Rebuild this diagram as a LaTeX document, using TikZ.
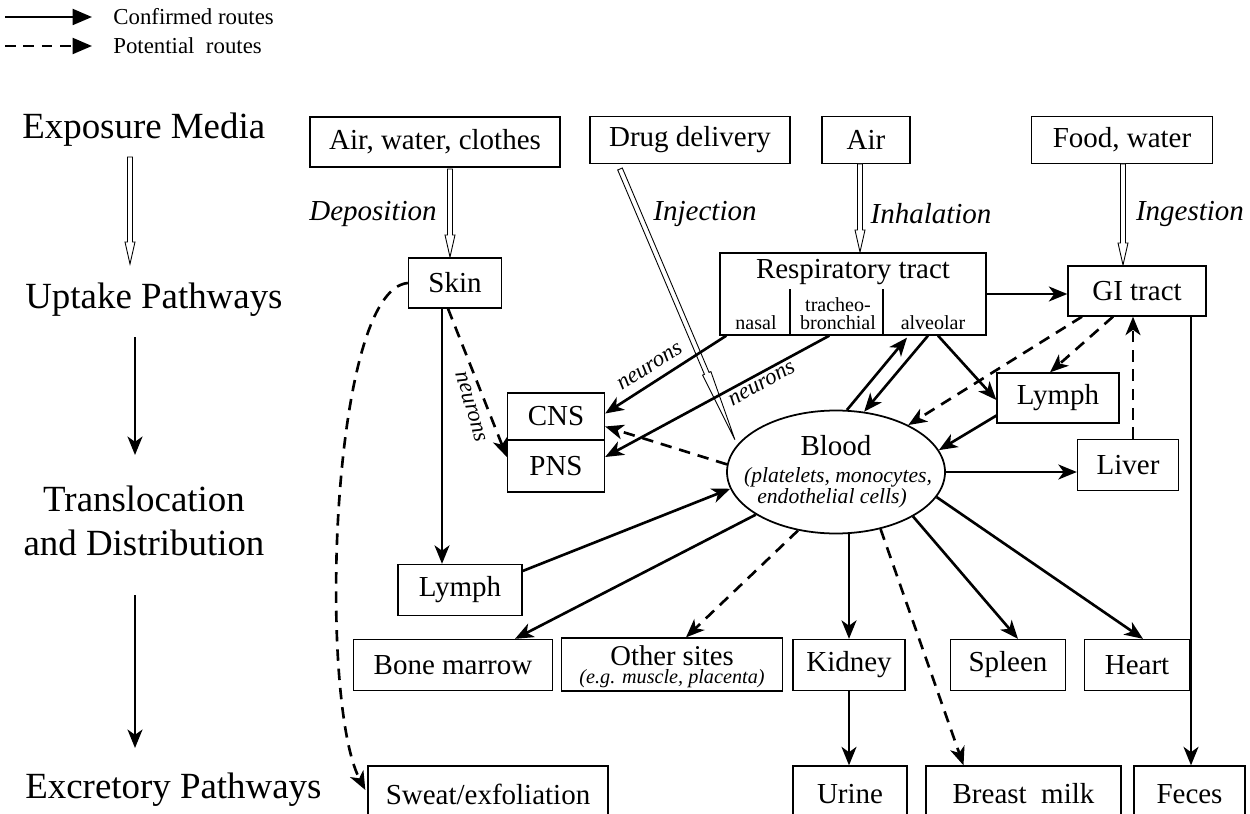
\documentclass[tikz,border=0pt]{standalone}
\usepackage{fontspec}
\setmainfont{Liberation Serif}
\usetikzlibrary{arrows.meta,shapes.geometric,calc}
\newcommand\fs[1]{\fontsize{#1}{#1}\selectfont}
\newcommand\hdown[3]{\draw[hol] ({#1-2.5},#2) -- ({#1-2.5},{#3-22}) -- ({#1-5},{#3-22}) -- (#1,#3) -- ({#1+5},{#3-22}) -- ({#1+2.5},{#3-22}) -- ({#1+2.5},#2) -- cycle;}
\begin{document}
\begin{tikzpicture}[x=0.02cm,y=-0.02cm,
 sz/.style 2 args={minimum width=#1*0.02cm, minimum height=#2*0.02cm},
 box/.style={draw, line width=0.75pt, inner sep=0pt, font=\fs{16.5}},
 sol/.style={line width=1.5pt, -{Stealth[length=10.5pt,width=8.5pt,inset=3pt]}},
 dsh/.style={sol, dash pattern=on 6.5pt off 4.5pt},
 legsol/.style={line width=1.4pt, -{Triangle[length=11pt,width=9pt]}},
 legdsh/.style={legsol, dash pattern=on 6pt off 4.5pt},
 it/.style={font=\fs{16.5}\itshape},
 rowlbl/.style={font=\fs{21}},
 neur/.style={font=\fs{13}\itshape, inner sep=1pt},
 small/.style={font=\fs{11.4}, inner sep=0pt},
 hol/.style={draw, line width=0.5pt, fill=white},
 ]
\useasboundingbox (0,0) rectangle (1250,814);
\clip (0,0) rectangle (1250,814);

% legend
\coordinate (l1a) at (5,17); \coordinate (l1b) at (92,17);
\coordinate (l2a) at (5,46); \coordinate (l2b) at (92,46);
\draw[legsol] (l1a) -- (l1b);
\draw[legdsh] (l2a) -- (l2b);
\node[anchor=west, font=\fs{13}, inner sep=0pt] (leg1) at (113,17) {Confirmed routes};
\node[anchor=west, font=\fs{13}, inner sep=0pt] (leg2) at (113,46) {Potential\ \ routes};

% row labels
\node[rowlbl, anchor=west, inner sep=0pt] (r1) at (22,130) {Exposure Media};
\node[rowlbl, anchor=west, inner sep=0pt] (r2) at (25,300) {Uptake Pathways};
\node[rowlbl, align=center, inner sep=0pt] (r3) at (144,521) {Translocation\\[4pt]and Distribution};
\node[rowlbl, anchor=west, inner sep=0pt] (r4) at (25,790) {Excretory Pathways};
\hdown{130}{157}{264}
\coordinate (ra1) at (135,337); \coordinate (ra2) at (135,455);
\coordinate (ra3) at (135,595); \coordinate (ra4) at (135,748);
\draw[sol] (ra1) -- (ra2);
\draw[sol] (ra3) -- (ra4);

% exposure media
\node[box, sz={250}{50}] (awc) at (435,142) {Air, water, clothes};
\node[box, sz={200}{47}] (drug) at (690,140) {Drug delivery};
\node[box, sz={88}{47}] (air) at (866,140) {Air};
\node[box, sz={181}{47}] (food) at (1122,140) {Food, water};

% uptake labels
\node[it] (dep) at (373,214) {Deposition};
\node[it] (inj) at (705,214) {Injection};
\node[it] (inh) at (931,214) {Inhalation};
\node[it] (ing) at (1190,214) {Ingestion};

% uptake nodes
\node[box, sz={93}{50}] (skin) at (455,283) {Skin};
\node[box, sz={266}{82}] (resp) at (853,294) {};
\node[font=\fs{16.5}, inner sep=0pt] (resptxt) at (853,272) {Respiratory tract};
\node[small] (nasal) at (756,323) {nasal};
\node[small] (trach) at (838,305) {tracheo-};
\node[small] (bronch) at (838,323) {bronchial};
\node[small] (alv) at (933,323) {alveolar};
\draw[line width=1.1pt] ($(resp.south west)+(71,0)$) -- ++(0,-47);
\draw[line width=1.1pt] ($(resp.south west)+(164,0)$) -- ++(0,-47);
\node[box, sz={138}{50}] (gi) at (1137,291) {GI tract};

% hollow arrows
\hdown{450}{169}{257}
\hdown{860}{164}{252}
\hdown{1123}{164}{265}
\begin{scope}[shift={(620,169)}, rotate=-67]
\draw[hol] (0,-2.5) -- (222,-2.5) -- (222,-4.5) -- (294,0) -- (222,4.5) -- (222,2.5) -- (0,2.5) -- cycle;
\end{scope}

% translocation nodes
\node[box, sz={97}{47}] (cns) at (556,416.5) {CNS};
\node[box, sz={97}{52}] (pns) at (556,466) {PNS};
\node[draw, line width=1pt, ellipse, sz={218}{123}, inner sep=0pt] (blood) at (836,472) {};
\node[font=\fs{16.5}, inner sep=0pt] (bloodtxt) at (836,446) {Blood};
\node[font=\fs{12.3}\itshape, inner sep=0pt] (bsub1) at (838,477) {(platelets, monocytes,};
\node[font=\fs{12.3}\itshape, inner sep=0pt] (bsub2) at (832,498) {endothelial cells)};
\node[box, sz={122}{50}] (lymphR) at (1058,398) {Lymph};
\node[box, sz={101}{51}] (liver) at (1128,465) {Liver};
\node[box, sz={124}{51}] (lymphL) at (460,590) {Lymph};

% distribution row
\node[box, sz={199}{51}] (bone) at (453,665) {Bone marrow};
\node[box, sz={221}{53}] (other) at (672,664.5) {};
\node[font=\fs{16.3}, inner sep=0pt] (othertxt) at (672,656) {Other sites};
\node[font=\fs{11.5}\itshape, inner sep=0pt] (othersub) at (672,679) {(e.g. muscle, placenta)};
\node[box, sz={112}{51}] (kidney) at (849,665) {Kidney};
\node[box, sz={115}{51}] (spleen) at (1008,665) {Spleen};
\node[box, sz={105}{51}] (heart) at (1137,665) {Heart};

% excretory row
\node[box, sz={240}{56}] (sweat) at (488,794) {Sweat/exfoliation};
\node[box, sz={114}{56}] (urine) at (850,794) {Urine};
\node[box, sz={195}{56}] (breast) at (1023.5,794) {Breast\ \ milk};
\node[box, sz={111}{56}] (feces) at (1189.5,794) {Feces};

% connectors
\draw[sol] ($(skin.south)+(-13,0)$) -- ($(lymphL.north)+(-18,0)$);
\draw[dsh] ($(skin.south)+(-7,0)$) -- ($(pns.west)+(0,-9)$);
\node[neur, rotate=-74] (n1) at (471,407) {neurons};
\draw[dsh] (skin.west) .. controls (330,290) and (318,700) .. ($(sweat.west)+(-2,-4)$);
\draw[sol] ($(lymphL.east)+(0,-19)$) -- (blood.189);
\draw[sol] (blood.208) -- ($(bone.north)+(62,0)$);
\draw[dsh] (blood.237) -- ($(other.north)+(14,0)$);
\draw[sol] (blood.south -| kidney.north) -- (kidney.north);
\draw[dsh] (blood.308) -- ($(breast.north)+(-60,0)$);
\draw[sol] (blood.330) -- ($(spleen.north)+(10,0)$);
\draw[sol] (blood.346) -- ($(heart.north)+(6,0)$);
\draw[sol] (blood.east) -- (blood.east -| liver.west);
\draw[dsh] (blood.176) -- ($(cns.east)+(0,10)$);
\draw[sol] (blood.80) -- ($(resp.south)+(54,2)$);
\draw[sol] ($(resp.south)+(75,0)$) -- (blood.65);
\draw[sol] ($(resp.south)+(85,0)$) -- ($(lymphR.west)+(0,2)$);
\draw[sol] ($(lymphR.west)+(1,17)$) -- (blood.12);
\draw[dsh] ($(gi.south)+(-24,0)$) -- ($(lymphR.north)+(-8,0)$);
\draw[dsh] ($(gi.south)+(-55,0)$) -- (blood.33);
\draw[dsh] ($(liver.north)+(5,0)$) -- ($(gi.south)+(-4,0)$);
\coordinate (gf) at ($(gi.south)+(54,0)$);
\draw[sol] (gf) -- (gf |- feces.north);
\draw[sol] (resp.east) -- (resp.east -| gi.west);
\draw[sol] ($(resp.south west)+(7,0)$) -- ($(cns.east)+(0,-3)$);
\node[neur, rotate=32] (n2) at (650,367) {neurons};
\draw[sol] ($(resp.south west)+(110,0)$) -- ($(pns.east)+(0,-9)$);
\node[neur, rotate=29] (n3) at (762,384) {neurons};
\draw[sol] (kidney.south) -- (kidney.south |- urine.north);
\end{tikzpicture}
\end{document}
